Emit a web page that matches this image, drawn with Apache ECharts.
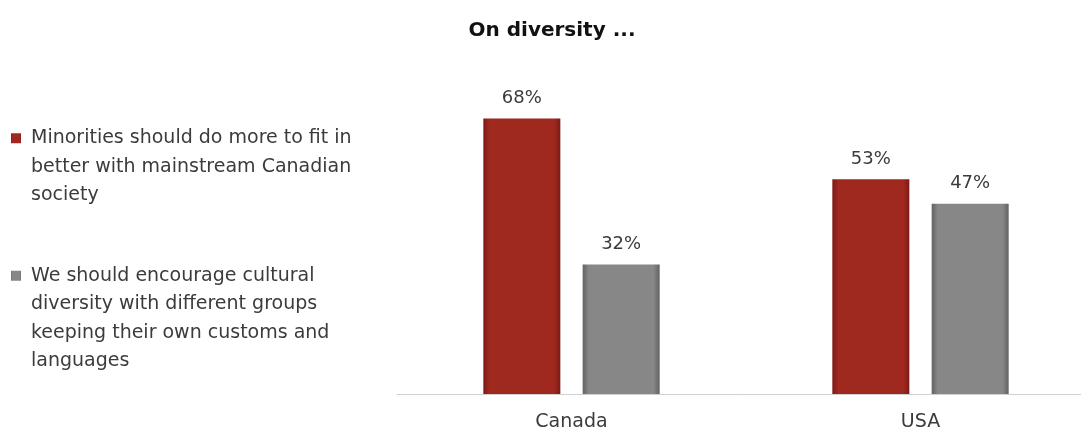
<!DOCTYPE html>
<html>
<head>
<meta charset="utf-8">
<script src="https://cdn.jsdelivr.net/npm/echarts@6/dist/echarts.min.js"></script>
<style>
html,body{margin:0;padding:0;background:#fff;}
#chart{width:1081px;height:434px;}
</style>
</head>
<body>
<div id="chart"></div>
<script>
var categories = ['Canada', 'USA'];
var seriesNames = [
  'Minorities should do more to fit in better with mainstream Canadian society',
  'We should encourage cultural diversity with different groups keeping their own customs and languages'
];
var legendLines = [
  ['Minorities should do more to fit in', 'better with mainstream Canadian', 'society'],
  ['We should encourage cultural', 'diversity with different groups', 'keeping their own customs and', 'languages']
];
var fitInValues = [68, 53];
var diversityValues = [32, 47];

var FONT = '"DejaVu Sans", sans-serif';
var TXT = '#3b3b3b';
var LH = 28.5;

function barGrad(edge, mid) {
  return new echarts.graphic.LinearGradient(0, 0, 1, 0, [
    {offset: 0, color: edge},
    {offset: 0.08, color: mid},
    {offset: 0.92, color: mid},
    {offset: 1, color: edge}
  ]);
}

function legendFor(idx, top) {
  var lines = legendLines[idx];
  var pre = [];
  for (var i = 0; i < lines.length - 1; i++) pre.push('{t| }');
  var txt = pre.concat(lines.map(function (l) { return '{t|' + l + '}'; })).join('\n');
  return {
    show: true,
    orient: 'vertical',
    left: 11,
    top: top,
    padding: 0,
    itemWidth: 10,
    itemHeight: 10,
    itemGap: 0,
    icon: 'rect',
    selectedMode: false,
    data: [seriesNames[idx]],
    formatter: function () { return txt; },
    textStyle: {
      fontFamily: FONT,
      fontSize: 19,
      color: TXT,
      lineHeight: LH,
      rich: {
        t: {fontFamily: FONT, fontSize: 19, color: TXT, lineHeight: LH, padding: [0, 0, 0, 5]}
      }
    }
  };
}

var chart = echarts.init(document.getElementById('chart'));
chart.setOption({
  animation: false,
  title: {
    text: 'On diversity ...',
    left: 547,
    textAlign: 'center',
    top: 16,
    textStyle: {fontFamily: FONT, fontSize: 20, fontWeight: 'bold', color: '#111'}
  },
  legend: [
    legendFor(0, 67),
    legendFor(1, 176)
  ],
  grid: {left: 397, width: 698, top: 70, bottom: 40, containLabel: false, outerBoundsMode: 'none'},
  xAxis: {
    type: 'category',
    data: categories,
    axisLine: {show: true, lineStyle: {color: '#d0d0d0', width: 1}},
    axisTick: {show: false},
    axisLabel: {fontFamily: FONT, fontSize: 19, color: TXT, margin: 19}
  },
  yAxis: {
    type: 'value',
    min: 0,
    max: 80,
    show: false,
    splitLine: {show: false}
  },
  series: [
    {
      name: seriesNames[0],
      type: 'bar',
      data: fitInValues,
      barWidth: 77,
      barGap: '29%',
      itemStyle: {color: barGrad('#7c1b16', '#a0291f')},
      label: {show: true, position: 'top', distance: 11, formatter: '{c}%', fontFamily: FONT, fontSize: 18, color: TXT}
    },
    {
      name: seriesNames[1],
      type: 'bar',
      data: diversityValues,
      barWidth: 77,
      itemStyle: {color: barGrad('#626262', '#878787')},
      label: {show: true, position: 'top', distance: 11, formatter: '{c}%', fontFamily: FONT, fontSize: 18, color: TXT}
    }
  ]
});
</script>
</body>
</html>
